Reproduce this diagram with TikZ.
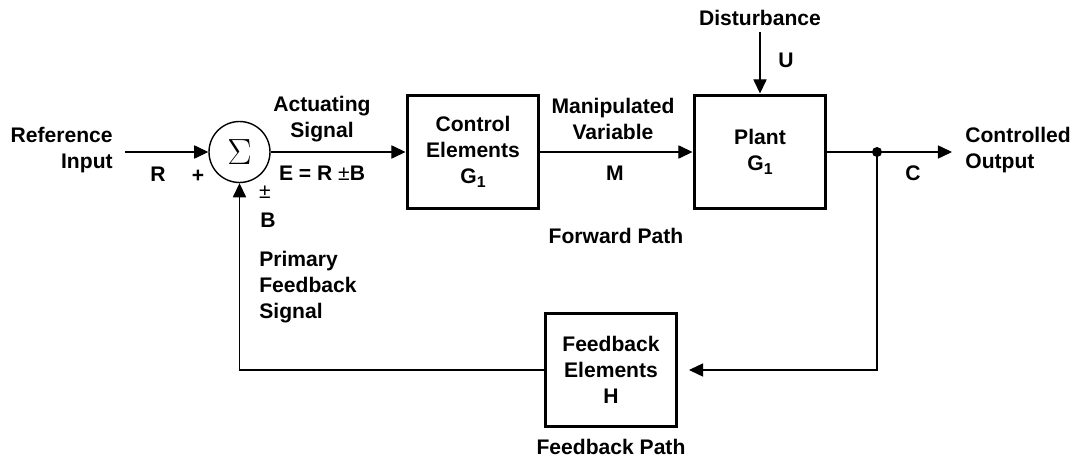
\documentclass[tikz,border=0pt]{standalone}
\usepackage{fontspec}
\setmainfont{Liberation Sans}
\usepackage{tikz}
\usetikzlibrary{arrows.meta}
\newcommand{\subone}{\raisebox{-2.5pt}{\fontsize{9}{9}\selectfont 1}}
\tikzstyle{block}=[draw, line width=1.7pt, align=center, inner sep=0,
                   minimum width=2.64cm, minimum height=2.28cm,
                   font=\fontsize{12}{14.8}\selectfont\bfseries]
\tikzstyle{summer}=[draw, circle, line width=0.8pt, inner sep=0, minimum size=1.22cm]
\tikzstyle{signal}=[line width=0.6pt, -{Triangle[length=8pt, width=7.5pt]}]
\tikzstyle{wire}=[line width=0.6pt]
\tikzstyle{lbl}=[align=center, inner sep=0, font=\fontsize{12}{14.8}\selectfont\bfseries]

\begin{document}
\begin{tikzpicture}[x=0.02cm, y=-0.02cm]
    \useasboundingbox (0, 0) rectangle (1083, 463);
    % blocks
    \node[summer] (sum) at (239.5, 152) {\fontsize{21}{21}\selectfont$\Sigma$};
    \node[block] (ctrl) at (473, 152) {Control\\Elements\\G\subone};
    \node[block] (plant) at (760, 152) {Plant\\G\subone};
    \node[block] (fb) at (611, 370) {Feedback\\Elements\\H};
    \fill (877, 152) circle (5) coordinate (tap);
    \coordinate (rin) at (125, 152);
    \coordinate (cout) at (952, 152);
    \coordinate (dist) at (760, 32);
    % connectors
    \draw[signal] (rin) -- (sum.west);
    \draw[signal] (sum.east) -- (ctrl.west);
    \draw[signal] (ctrl.east) -- (plant.west);
    \draw[signal] (dist) -- (plant.north);
    \draw[wire] (plant.east) -- (tap);
    \draw[signal] (tap) -- (cout);
    \draw[signal, shorten >=6pt] (tap) |- (fb.east);
    \draw[signal] (fb.west) -| (sum.south);
    % labels
    \node[lbl, anchor=east, align=right] (reflbl) at (113, 150) {Reference\\Input};
    \node[lbl] (rlbl) at (158, 174) {R};
    \node[lbl] (plus) at (198, 176) {+};
    \node[lbl, font=\fontsize{12}{14.8}\selectfont] (pm) at (265, 192) {±};
    \node[lbl] (blbl) at (268, 220) {B};
    \node[lbl] (actlbl) at (322, 119) {Actuating\\Signal};
    \node[lbl] (elbl) at (322, 173) {E = R {\mdseries±}B};
    \node[lbl] (maniplbl) at (613, 119) {Manipulated\\Variable};
    \node[lbl] (mlbl) at (615, 173) {M};
    \node[lbl] (fwdlbl) at (616, 236) {Forward Path};
    \node[lbl] (distlbl) at (760, 18) {Disturbance};
    \node[lbl] (ulbl) at (786, 60) {U};
    \node[lbl] (clbl) at (913, 173) {C};
    \node[lbl, anchor=west, align=left] (outlbl) at (965, 150) {Controlled\\Output};
    \node[lbl, anchor=west, align=left] (pfblbl) at (259, 287) {Primary\\Feedback\\Signal};
    \node[lbl] (fblbl) at (611, 447) {Feedback Path};
\end{tikzpicture}
\end{document}
